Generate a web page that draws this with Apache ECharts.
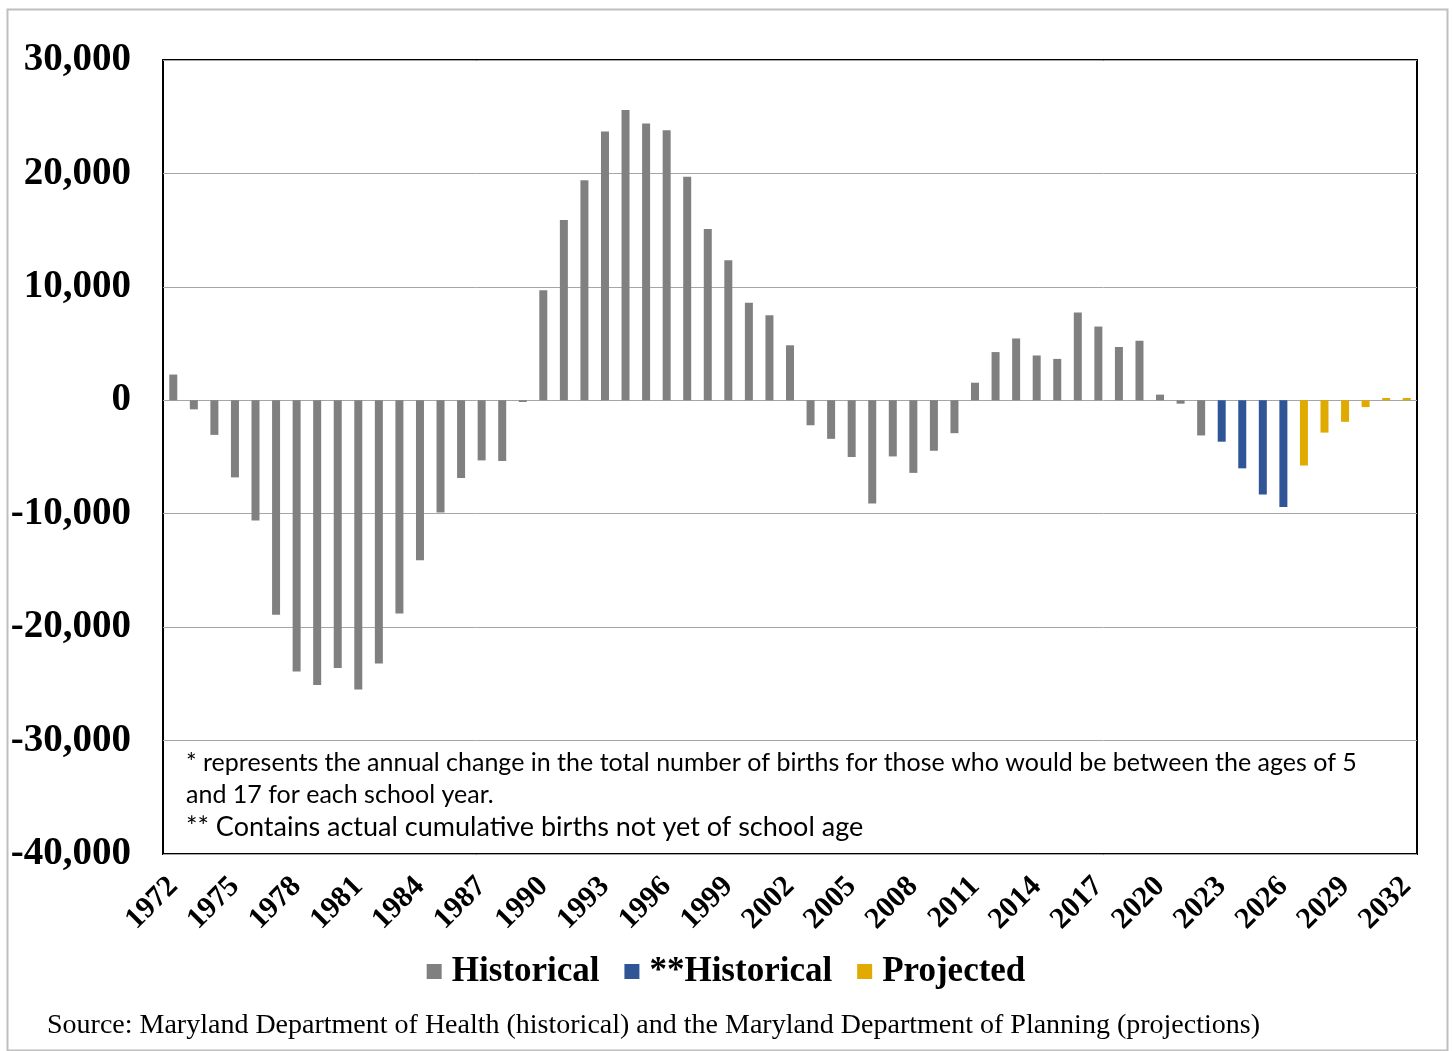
<!DOCTYPE html>
<html>
<head>
<meta charset="utf-8">
<script src="https://cdn.jsdelivr.net/npm/echarts@6/dist/echarts.min.js"></script>
<style>
html,body{margin:0;padding:0;background:#fff;}
#chart{width:1452px;height:1051px;}
</style>
</head>
<body>
<div id="chart"></div>
<script>
const years = [];
for (let y = 1972; y <= 2032; y++) years.push(String(y));

// Historical 1972–2022
const historical = [
  2270, -800, -3050, -6800, -10600, -18900, -23900, -25100, -23600, -25500,
  -23200, -18800, -14100, -9900, -6850, -5300, -5350, -150, 9700, 15900,
  19400, 23700, 25600, 24400, 23800, 19700, 15100, 12350, 8600, 7500,
  4850, -2200, -3400, -5000, -9100, -4950, -6400, -4450, -2900, 1550,
  4250, 5450, 3950, 3650, 7750, 6500, 4700, 5250, 500, -300,
  -3100
];
// **Historical 2023–2026
const historical2 = [-3650, -6000, -8300, -9400];
// Projected 2027–2032
const projected = [-5750, -2850, -1900, -600, 200, 200];

const yTicks = [-40000, -30000, -20000, -10000, 0, 10000, 20000, 30000];

const n = years.length;
function place(vals, start) {
  const arr = new Array(n).fill(null);
  vals.forEach((v, i) => { arr[start + i] = v; });
  return arr;
}
const sHist = place(historical, 0);
const sHist2 = place(historical2, historical.length);
const sProj = place(projected, historical.length + historical2.length);

const serif = '"Liberation Serif", "DejaVu Serif", serif';
const chart = echarts.init(document.getElementById('chart'), null, {renderer: 'canvas'});
chart.setOption({
  animation: false,
  backgroundColor: '#fff',
  grid: {
    left: 163, right: 35, top: 60, bottom: 197,
    show: true, borderColor: '#000', borderWidth: 2, backgroundColor: 'transparent'
  },
  legend: {
    bottom: 57,
    left: 'center',
    itemWidth: 15, itemHeight: 15, itemGap: 25,
    icon: 'rect',
    textStyle: {fontFamily: serif, fontWeight: 'bold', fontSize: 35, color: '#000', padding: [0, 0, 0, 5]},
    data: ['Historical', '**Historical', 'Projected']
  },
  xAxis: {
    type: 'category',
    data: years,
    axisLine: {show: false},
    axisTick: {show: false},
    axisLabel: {
      interval: 2, rotate: 45, margin: 28,
      fontFamily: serif, fontWeight: 'bold', fontSize: 30, color: '#000'
    }
  },
  yAxis: {
    type: 'value',
    min: yTicks[0], max: yTicks[yTicks.length - 1], interval: 10000,
    axisLine: {show: false},
    axisTick: {show: false},
    splitLine: {show: true, lineStyle: {color: '#a6a6a6', width: 1}},
    axisLabel: {
      margin: 32,
      fontFamily: serif, fontWeight: 'bold', fontSize: 39, color: '#000',
      formatter: v => v.toLocaleString('en-US')
    }
  },
  series: [
    {name: 'Historical', type: 'bar', data: sHist, barWidth: 8, barGap: '-100%',
     itemStyle: {color: '#808080'}},
    {name: '**Historical', type: 'bar', data: sHist2, barWidth: 8, barGap: '-100%',
     itemStyle: {color: '#2F5597'}},
    {name: 'Projected', type: 'bar', data: sProj, barWidth: 8, barGap: '-100%',
     itemStyle: {color: '#E1AA00'}}
  ],
  graphic: [
    {type: 'rect', left: 5, top: 7, shape: {width: 1440, height: 1041},
     style: {fill: 'none', stroke: '#bfbfbf', lineWidth: 2}, silent: true},
    {type: 'text', left: 186, top: 750,
     style: {text: '* represents the annual change in the total number of births for those who would be between the ages of 5',
             font: '25px Lato, "Open Sans", sans-serif', fill: '#000'}},
    {type: 'text', left: 186, top: 782,
     style: {text: 'and 17 for each school year.',
             font: '25px Lato, "Open Sans", sans-serif', fill: '#000'}},
    {type: 'text', left: 186, top: 814,
     style: {text: '** Contains actual cumulative births not yet of school age',
             font: '27px Lato, "Open Sans", sans-serif', fill: '#000'}},
    {type: 'text', left: 47, top: 1012,
     style: {text: 'Source: Maryland Department of Health (historical) and the Maryland Department of Planning (projections)',
             font: '28px "Liberation Serif", serif', fill: '#000'}}
  ]
});
</script>
</body>
</html>
